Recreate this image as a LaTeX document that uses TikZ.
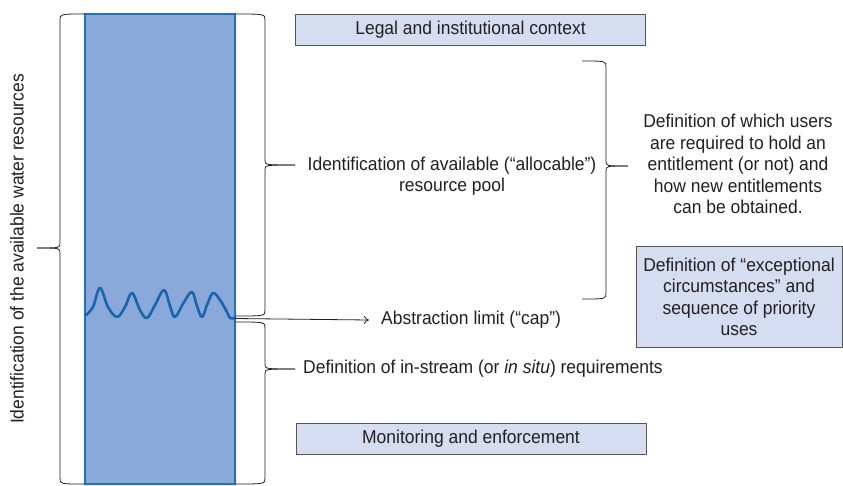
\documentclass[tikz,border=0pt]{standalone}
\usepackage{fontspec}
\setmainfont{Liberation Sans}[FakeStretch=0.94]
\usetikzlibrary{arrows.meta}
\definecolor{colfill}{HTML}{8BA9D8}
\definecolor{coledge}{HTML}{1F72C0}
\definecolor{wavecol}{HTML}{1565B0}
\definecolor{boxfill}{HTML}{D5DEF0}
\definecolor{boxedge}{HTML}{555555}
\definecolor{txt}{HTML}{231F20}
\tikzset{
  lbl/.style={font=\fontsize{18.6}{21.5}\selectfont, text=txt, inner sep=0pt, align=center},
  infobox/.style={lbl, draw=boxedge, fill=boxfill, line width=0.8pt},
  bracepath/.style={draw=txt, line width=0.8pt},
}
\newcommand\mybrace[6]{% end x, line x, tip x, top y, bottom y, tip y
  \draw[bracepath] (#1,#4) .. controls (#2,#4) .. (#2,#4+6) -- (#2,#6-5) .. controls (#2,#6) .. (#3,#6);
  \draw[bracepath] (#3,#6) .. controls (#2,#6) .. (#2,#6+5) -- (#2,#5-6) .. controls (#2,#5) .. (#1,#5);
}
\begin{document}
\begin{tikzpicture}[x=1pt,y=-1pt]
\useasboundingbox (0,0) rectangle (843,485);
% water column
\filldraw[fill=colfill, draw=coledge, line width=1.2pt] (85,14) rectangle (235,484);
% wave
\draw[wavecol, line width=2.6pt, line cap=round, line join=round]
  plot[smooth, tension=0.6] coordinates {(86,315) (93,307) (100,288) (108,307) (117,317) (125,307) (132,293) (140,310) (147,318) (155,305) (164,290) (170,306) (175,317) (184,302) (192,292) (197,306) (202,317) (207,305) (213,293) (220,300) (227,312) (230,318) (235,318)};
\coordinate (capstart) at (235,318.5);
% braces
\mybrace{85}{60}{37}{14}{484}{248}
\mybrace{235}{265}{295}{14}{316}{165}
\mybrace{235}{265}{295}{322}{484}{369}
\mybrace{582}{606}{628}{61}{299}{166}
% boxes
\node[infobox, minimum width=350pt, minimum height=31pt] (legal) at (470.5,30) {Legal and institutional context};
\node[infobox, minimum width=350pt, minimum height=31pt] (monitor) at (471,439) {Monitoring and enforcement};
\node[infobox, minimum width=206pt, minimum height=101pt] (except) at (739,297) {Definition of “exceptional\\circumstances” and\\sequence of priority\\uses};
% texts
\node[lbl] (pool) at (452,176) {Identification of available (“allocable”)\\resource pool};
\node[lbl] (users) at (738,164) {Definition of which users\\are required to hold an\\entitlement (or not) and\\how new entitlements\\can be obtained.};
\node[lbl, anchor=west] (cap) at (381,320) {Abstraction limit (“cap”)};
\node[lbl, anchor=west] (instream) at (303,369) {Definition of in-stream (or \textit{in situ}) requirements};
\node[lbl, rotate=90] (avail) at (17,249) {Identification of the available water resources};
% arrow
\draw[txt, line width=0.8pt, -{To[length=5pt,width=8pt]}] (capstart) -- ([xshift=-12pt]cap.west);
\end{tikzpicture}
\end{document}
